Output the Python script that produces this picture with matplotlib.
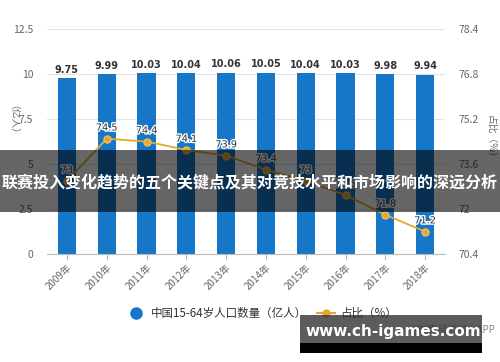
import matplotlib
matplotlib.use("Agg")
import matplotlib.pyplot as plt
import matplotlib.patheffects as pe
from matplotlib.patches import Rectangle
from matplotlib.lines import Line2D

plt.rcParams['font.family'] = ['Noto Sans CJK SC', 'DejaVu Sans']

years = ["2009年", "2010年", "2011年", "2012年", "2013年", "2014年", "2015年", "2016年", "2017年", "2018年"]
population = [9.75, 9.99, 10.03, 10.04, 10.06, 10.05, 10.04, 10.03, 9.98, 9.94]
share = [73.0, 74.5, 74.4, 74.1, 73.9, 73.4, 73.0, 72.5, 71.8, 71.2]
left_ticks = [0, 2.5, 5, 7.5, 10, 12.5]
left_labels = ["0", "2.5", "5", "7.5", "10", "12.5"]
right_ticks = [70.4, 72, 73.6, 75.2, 76.8, 78.4]
right_labels = ["70.4", "72", "73.6", "75.2", "76.8", "78.4"]

bar_color = "#1677c9"
line_color = "#e3a92c"
text_gray = "#666666"

fig = plt.figure(figsize=(5, 3.62), dpi=100)
ax = fig.add_axes([0.094, 0.298, 0.796, 0.622])
ax2 = ax.twinx()

x = list(range(len(years)))
ax.bar(x, population, width=0.46, color=bar_color, zorder=2)
for xi, v in zip(x, population):
    ax.text(xi, v + 0.2, f"{v:.2f}", ha="center", va="bottom", fontsize=7,
            fontweight="bold", color="#333333", family=["DejaVu Sans"])

ax.set_ylim(0, 12.5)
ax.set_xlim(-0.5, len(years) - 0.5)
ax.set_yticks(left_ticks)
ax.set_yticklabels(left_labels, fontsize=7.5, color=text_gray)
ax.set_xticks(x)
ax.set_xticklabels(years, rotation=45, ha="right", rotation_mode="anchor",
                   fontsize=7, color=text_gray)
ax.grid(axis="y", color="#e3e3e3", linewidth=0.8, zorder=0)
ax.set_axisbelow(True)
for s in ["top", "right", "left"]:
    ax.spines[s].set_visible(False)
ax.spines["bottom"].set_color("#bbbbbb")
ax.tick_params(axis="y", length=0, pad=10)
ax.tick_params(axis="x", length=4, color="#bbbbbb", pad=2)

ax2.plot(x, share, color=line_color, linewidth=1.3, marker="o", markersize=5,
         markerfacecolor=line_color, markeredgecolor="#f0c060", zorder=3)
for xi, v in zip(x, share):
    ax2.text(xi, v + 0.22, f"{v:g}", ha="center", va="bottom", fontsize=7,
             color="#333333", family=["DejaVu Sans"],
             path_effects=[pe.withStroke(linewidth=2, foreground="white")])
ax2.set_ylim(70.4, 78.4)
ax2.set_yticks(right_ticks)
ax2.set_yticklabels(right_labels, fontsize=7.5, color=text_gray)
for s in ["top", "right", "left", "bottom"]:
    ax2.spines[s].set_visible(False)
ax2.tick_params(axis="y", length=0, pad=10)

fig.text(0.016, 0.655, "（亿人）", rotation=270, ha="center", va="center",
         fontsize=7, color=text_gray)
fig.text(0.982, 0.615, "占比（%）", rotation=270, ha="center", va="center",
         fontsize=7, color=text_gray)

# legend
lh = [Line2D([0], [0], marker="o", color="none", markerfacecolor=bar_color,
             markeredgecolor=bar_color, markersize=8),
      Line2D([0], [0], color=line_color, marker="o", markersize=5,
             markerfacecolor=line_color, linewidth=1.5)]
fig.legend(lh, ["中国15-64岁人口数量（亿人）", "占比（%）"], loc="center",
           bbox_to_anchor=(0.525, 0.135), ncol=2, frameon=False, fontsize=8.3,
           handlelength=1.5, handletextpad=0.5, columnspacing=0.9,
           labelcolor="#333333")

# source text (behind watermark)
fig.text(0.905, 0.09, "@前瞻经济学人APP", ha="center", va="center", fontsize=7,
         color="#888888")

# banner
fig.patches.append(Rectangle((0, 0.415), 1, 0.17, transform=fig.transFigure,
                             facecolor="black", alpha=0.6, edgecolor="none", zorder=10))
fig.text(0.5, 0.495, "联赛投入变化趋势的五个关键点及其对竞技水平和市场影响的深远分析",
         ha="center", va="center", fontsize=11.5, fontweight="bold", color="white", zorder=11)

# watermark box
fig.patches.append(Rectangle((0.6, 0.0525), 0.364, 0.078, transform=fig.transFigure,
                             facecolor="#333333", alpha=0.8, edgecolor="none", zorder=10))
fig.patches.append(Rectangle((0.6, 0.025), 0.364, 0.0275, transform=fig.transFigure,
                             facecolor="black", alpha=1.0, edgecolor="none", zorder=10))
fig.text(0.786, 0.085, "www.ch-igames.com", ha="center", va="center", fontsize=11,
         fontweight="bold", color="white", family=["DejaVu Sans"], zorder=11)

fig.savefig("out.png", dpi=100)
